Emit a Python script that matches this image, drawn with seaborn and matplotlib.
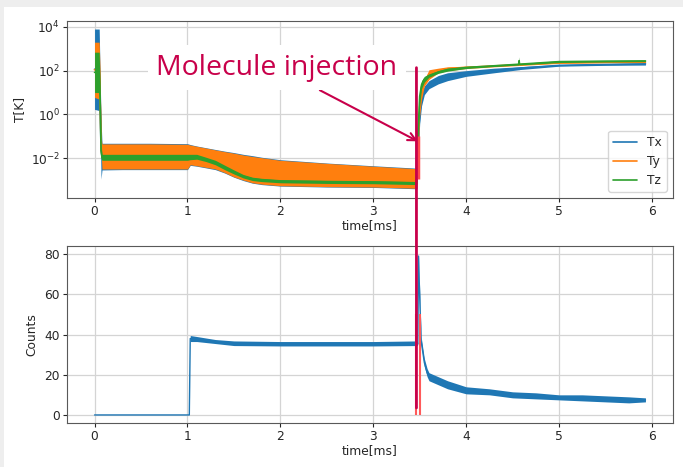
import numpy as np
import pandas as pd
import matplotlib
matplotlib.use("Agg")
import matplotlib.pyplot as plt
from matplotlib.patches import Rectangle, ConnectionPatch
import seaborn as sns

# ---------------- data ----------------
series_names = ["Tx", "Ty", "Tz"]
series_colors = ["#1f77b4", "#ff7f0e", "#2ca02c"]

t_top = [0.0, 0.05, 0.06, 0.07, 0.08, 0.3, 0.6, 1.0, 1.03, 1.1,
         1.2, 1.3, 1.4, 1.5, 1.6, 1.7, 1.8, 2.0, 2.5, 3.0,
         3.47, 3.48, 3.49, 3.50, 3.52, 3.55, 3.6, 3.7, 3.8, 4.0,
         4.3, 4.565, 4.57, 4.575, 5.0, 5.5, 5.93]

tx_lo = [1.7, 1.5, 0.3, 1.1e-3, 2.9e-3, 3.0e-3, 3.0e-3, 3.0e-3, 4.7e-3, 4.3e-3,
         3.6e-3, 3.0e-3, 2.1e-3, 1.35e-3, 9.5e-4, 7.2e-4, 6.2e-4, 5.3e-4, 4.8e-4, 4.6e-4,
         4.0e-4, 5e-3, 0.05, 0.4, 2.5, 8, 15, 25, 35, 55,
         80, 110, 110, 112, 160, 175, 180]
tx_hi = [8000, 8000, 60, 0.6, 0.048, 0.048, 0.048, 0.046, 0.042, 0.036,
         0.03, 0.025, 0.021, 0.018, 0.015, 0.013, 0.011, 8.5e-3, 6e-3, 4.5e-3,
         3.5e-3, 0.06, 0.5, 3, 10, 20, 35, 60, 80, 100,
         130, 150, 150, 152, 190, 210, 230]

ty_lo = [6, 5, 0.3, 0.02, 3.2e-3, 3.2e-3, 3.2e-3, 3.2e-3, 5e-3, 4.5e-3,
         3.8e-3, 3.2e-3, 2.2e-3, 1.4e-3, 1.0e-3, 7.5e-4, 6.5e-4, 5.5e-4, 5e-4, 4.8e-4,
         4.2e-4, 0.01, 0.2, 1, 5, 20, 40, 80, 100, 125,
         150, 172, 172, 173, 215, 230, 235]
ty_hi = [2000, 2000, 100, 0.1, 0.045, 0.045, 0.045, 0.043, 0.04, 0.035,
         0.029, 0.024, 0.02, 0.017, 0.014, 0.012, 0.0105, 8e-3, 5.8e-3, 4.3e-3,
         3.3e-3, 0.03, 0.4, 5, 15, 40, 110, 130, 150, 160,
         180, 202, 202, 203, 245, 260, 265]

tz_lo = [10, 10, 1, 0.01, 8e-3, 8e-3, 8e-3, 8e-3, 8.5e-3, 9e-3,
         7e-3, 5e-3, 3e-3, 1.9e-3, 1.25e-3, 9.5e-4, 8.5e-4, 7.5e-4, 7e-4, 6.8e-4,
         6.2e-4, 0.05, 0.3, 3, 15, 30, 50, 75, 95, 125,
         155, 182, 190, 183, 235, 250, 260]
tz_hi = [700, 700, 20, 0.05, 0.015, 0.015, 0.015, 0.015, 0.015, 0.015,
         0.011, 0.008, 4.8e-3, 2.9e-3, 1.8e-3, 1.35e-3, 1.2e-3, 1.05e-3, 9.8e-4, 9.4e-4,
         8.6e-4, 0.3, 2, 15, 35, 55, 70, 100, 130, 155,
         180, 212, 430, 213, 285, 295, 300]

t_cnt = [0.0, 1.02, 1.03, 1.1, 1.3, 1.5, 2.0, 2.5, 3.0, 3.47,
         3.48, 3.487, 3.50, 3.515, 3.55, 3.58, 3.6, 3.7, 3.8, 4.0,
         4.25, 4.5, 4.75, 5.0, 5.25, 5.5, 5.75, 5.93]
cnt_lo = [0, 0, 36.5, 36.5, 35.5, 34.5, 34.3, 34.3, 34.3, 34.5,
          35, 78, 55, 35, 24, 19, 17, 15, 13, 10.5,
          10, 8.5, 8, 7.5, 7, 6.5, 6, 6.5]
cnt_hi = [0, 0, 39.5, 39, 37.5, 36.8, 36.5, 36.5, 36.5, 36.8,
          36, 80, 62, 39, 28, 23, 21, 19, 17, 14,
          13, 11.5, 11, 10, 10, 9.5, 9, 8.5]

x_ticks = [0, 1, 2, 3, 4, 5, 6]
annot_text = "Molecule injection"

# ---------------- style ----------------
sns.set_style("whitegrid", {
    "axes.edgecolor": "0.35",
    "grid.color": "0.83",
    "xtick.bottom": True,
    "ytick.left": True,
    "axes.linewidth": 1.0,
})
plt.rcParams["font.family"] = ["DejaVu Sans"]
plt.rcParams.update({
    "xtick.labelsize": 8.8, "ytick.labelsize": 8.8,
    "axes.labelsize": 8.8, "legend.fontsize": 8.8,
    "xtick.major.size": 3, "ytick.major.size": 3,
    "xtick.major.pad": 2, "ytick.major.pad": 2,
    "xtick.color": "0.15", "ytick.color": "0.15",
    "grid.linewidth": 0.9,
})
crimson = "#c8004a"

fig = plt.figure(figsize=(6.83, 4.67), dpi=100, facecolor="#eeeeee")
fig.add_artist(Rectangle((4 / 683, 0), 1, 1 - 7 / 467, transform=fig.transFigure,
                         facecolor="white", edgecolor="none", zorder=-10))
ax1 = fig.add_axes([67 / 683, 1 - 198 / 467, 606 / 683, 177 / 467])
ax2 = fig.add_axes([67 / 683, 1 - 423 / 467, 606 / 683, 177 / 467])

# ---------------- top: temperatures ----------------
ax1.set_yscale("log")
env = {"Tx": (tx_lo, tx_hi), "Ty": (ty_lo, ty_hi), "Tz": (tz_lo, tz_hi)}
for i, (name, col) in enumerate(zip(series_names, series_colors)):
    lo, hi = env[name]
    df = pd.DataFrame({"time": t_top + t_top, "T": lo + hi})
    sns.lineplot(data=df, x="time", y="T", ax=ax1, estimator="mean",
                 errorbar=("pi", 100), color=col, lw=1.2, label=name,
                 zorder=2 + i * 0.1 + 0.05,
                 err_kws={"alpha": 1.0, "lw": 0, "zorder": 2 + i * 0.1})
ax1.vlines([3.48], 1.1e-3, 0.1, color="#ff4d4d", lw=2.5, zorder=3)
ax1.set_ylim(10 ** -3.82, 10 ** 4.27)
ax1.set_xticks(x_ticks)
ax1.set_xlabel("time[ms]", labelpad=1)
ax1.set_ylabel("T[K]", labelpad=3)
ax1.legend(loc="lower right", frameon=True)
ax1.annotate(annot_text, xy=(3.48, 0.059), xytext=(1.96, 137), textcoords="data",
             ha="center", va="center", fontsize=20.5, color=crimson,
             family=["Open Sans", "DejaVu Sans"],
             bbox=dict(boxstyle="square,pad=0.3", fc="white", ec="none"),
             arrowprops=dict(arrowstyle="->", color=crimson, lw=1.5,
                             shrinkA=0, shrinkB=0, mutation_scale=14),
             zorder=10)

# ---------------- bottom: counts ----------------
dfc = pd.DataFrame({"time": t_cnt + t_cnt, "Counts": cnt_lo + cnt_hi})
sns.lineplot(data=dfc, x="time", y="Counts", ax=ax2, estimator="mean",
             errorbar=("pi", 100), color=series_colors[0], lw=1.0,
             err_kws={"alpha": 1.0, "lw": 0})
ax2.vlines([3.465, 3.50], 0, 50, color="#ff5a5a", lw=1.5, zorder=3)
ax2.set_xticks(x_ticks)
ax2.set_xlabel("time[ms]", labelpad=1)
ax2.set_ylabel("Counts", labelpad=4)

for ax in (ax1, ax2):
    ax.set_xlim(-0.2965, 6.2265)
    for s in ax.spines.values():
        s.set_visible(True)

ax2.set_ylim(-4, 84)

con = ConnectionPatch(xyA=(3.465, 137), coordsA=ax1.transData,
                      xyB=(3.465, 3.5), coordsB=ax2.transData,
                      color=crimson, lw=2, zorder=20)
fig.add_artist(con)

fig.savefig("out.png", dpi=100, facecolor=fig.get_facecolor())
